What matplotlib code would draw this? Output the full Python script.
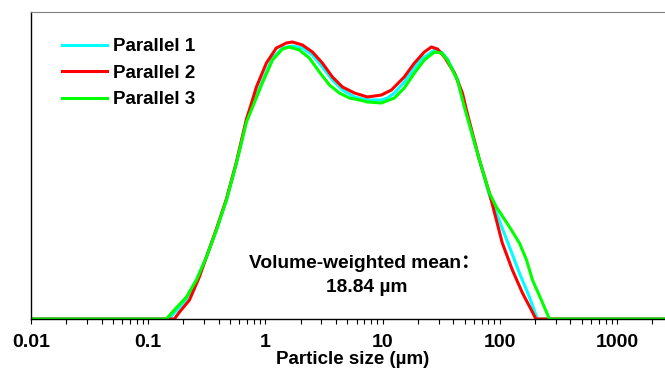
import matplotlib.pyplot as plt
import numpy as np

plt.rcParams['font.family'] = ['Liberation Sans', 'Noto Sans CJK SC', 'DejaVu Sans']
plt.rcParams['font.weight'] = 'bold'

# particle size (um) and volume density (%)
x_p1 = [0.01, 0.15, 0.167, 0.212, 0.258, 0.314, 0.382, 0.465, 0.566, 0.689, 0.942, 1.15,
        1.40, 1.70, 2.07, 2.52, 3.06, 3.73, 4.54, 5.75, 7.42, 9.77, 11.0, 12.6, 15.3,
        18.7, 21.4, 27.7, 31.8, 35.7, 43.5, 49.9, 67, 81.5, 93.5, 121, 147, 179, 209, 2600]
y_p1 = [0, 0, 0.12, 0.40, 0.78, 1.24, 1.78, 2.38, 3.12, 3.96, 4.76, 5.22,
        5.42, 5.46, 5.42, 5.28, 5.04, 4.78, 4.58, 4.44, 4.38, 4.38, 4.42, 4.52, 4.74,
        5.02, 5.20, 5.38, 5.34, 5.20, 4.80, 4.26, 3.18, 2.48, 2.12, 1.44, 0.92, 0.44, 0, 0]

x_p2 = [0.01, 0.167, 0.185, 0.225, 0.273, 0.382, 0.465, 0.566, 0.689, 0.730, 0.838, 1.02,
        1.24, 1.51, 1.70, 2.07, 2.52, 3.06, 3.73, 4.54, 5.75, 7.42, 9.77, 11.9, 15.3,
        18.7, 22.7, 26.1, 29.4, 33.7, 41.0, 48.0, 51.9, 67, 81.5, 93.5, 105, 128, 156,
        186, 203, 2600]
y_p2 = [0, 0, 0.14, 0.38, 0.84, 1.80, 2.40, 3.14, 4.00, 4.18, 4.64, 5.12,
        5.42, 5.52, 5.54, 5.48, 5.34, 5.12, 4.84, 4.64, 4.52, 4.44, 4.48, 4.58, 4.84,
        5.12, 5.34, 5.44, 5.40, 5.24, 4.92, 4.52, 4.18, 3.18, 2.52, 1.98, 1.52, 0.98, 0.52,
        0.18, 0, 0]

x_p3 = [0.01, 0.143, 0.167, 0.212, 0.258, 0.314, 0.382, 0.465, 0.566, 0.689, 0.942, 1.15,
        1.40, 1.60, 1.95, 2.37, 2.89, 3.52, 4.28, 5.21, 6.34, 7.42, 9.77, 12.6, 15.3,
        18.7, 22.7, 27.7, 31.8, 35.7, 43.5, 49.9, 67, 81.5, 93.5, 121, 147, 169, 190,
        226, 265, 2600]
y_p3 = [0, 0, 0.18, 0.44, 0.78, 1.24, 1.78, 2.38, 3.12, 3.94, 4.72, 5.18,
        5.40, 5.44, 5.38, 5.22, 4.94, 4.68, 4.52, 4.42, 4.38, 4.34, 4.32, 4.42, 4.62,
        4.92, 5.18, 5.34, 5.32, 5.18, 4.78, 4.24, 3.18, 2.52, 2.24, 1.84, 1.52, 1.18, 0.78,
        0.38, 0, 0]

labels = ['Parallel 1', 'Parallel 2', 'Parallel 3']
colors = ['#00ffff', '#ff0000', '#00ff00']

fig = plt.figure(figsize=(6.65, 3.69), dpi=100)
ax = fig.add_axes([31 / 665, 1 - 319 / 369, 1 - 31 / 665, 307 / 369])

for xs, ys, lab, c in zip([x_p1, x_p2, x_p3], [y_p1, y_p2, y_p3], labels, colors):
    ax.plot(xs, ys, color=c, lw=2.2, label=lab, solid_joinstyle='round')

ax.set_xscale('log')
ax.set_xlim(0.01, 10 ** (3 + 48 / 117.2))
ax.set_ylim(0, 6.14)
ax.set_yticks([])
ax.spines['right'].set_visible(False)
ax.spines['top'].set_color('#808080')
ax.spines['left'].set_linewidth(1)
ax.spines['bottom'].set_linewidth(1)
ax.tick_params(axis='x', which='both', direction='out', length=3.5, width=0.8, labelsize=14, pad=7)
ax.set_xticks([0.01, 0.1, 1, 10, 100, 1000])
ax.set_xticklabels(['0.01', '0.1', '1', '10', '100', '1000'], fontweight='bold')
fig.text(353 / 665, 1 - 360 / 369, 'Particle size (µm)', fontsize=13.5, fontweight='bold',
         ha='center', va='center')

ax.legend(loc='upper left', bbox_to_anchor=(62 / 665, 1 - 38 / 369),
          bbox_transform=fig.transFigure, frameon=False, borderpad=0, borderaxespad=0,
          handlelength=2.4, handletextpad=0.32, labelspacing=0.5,
          prop={'weight': 'bold', 'size': 13.5})

fig.text(365 / 665, 1 - 264 / 369, 'Volume-weighted mean：', fontsize=13.8, fontweight='bold',
         ha='center', va='center')
fig.text(367 / 665, 1 - 287 / 369, '18.84 µm', fontsize=13.8, fontweight='bold',
         ha='center', va='center')

fig.savefig('out.png', dpi=100)
